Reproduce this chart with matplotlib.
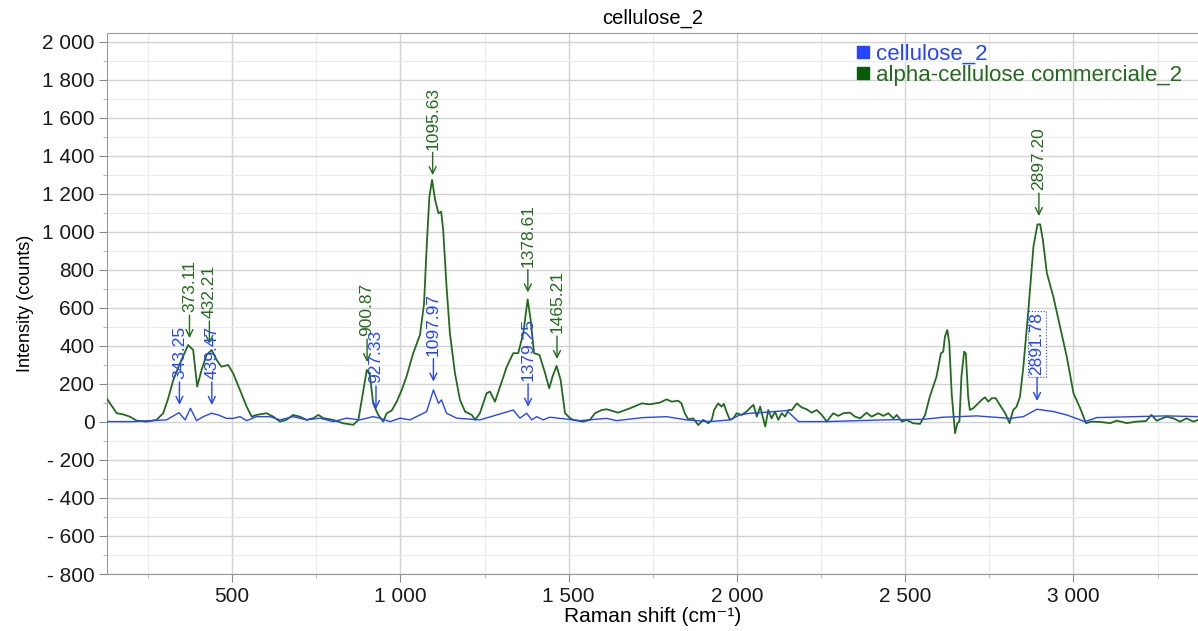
import numpy as np
import matplotlib
matplotlib.use('Agg')
import matplotlib.pyplot as plt
from matplotlib.ticker import MultipleLocator, FuncFormatter
from matplotlib.lines import Line2D

# spectra (Raman shift cm-1, counts)
green_x = [127, 157, 176, 196, 216, 246, 275, 295, 310, 325, 345, 369, 384, 396, 409, 424, 439, 454, 468, 488,
           503, 523, 543, 558, 572, 602, 622, 642, 661, 681, 701, 721, 741, 756, 771, 800, 830, 860, 875, 890,
           900, 909, 919, 934, 949, 959, 974, 989, 1004, 1018, 1038, 1058, 1070, 1078, 1086, 1094, 1103, 1113, 1121, 1127,
           1137, 1147, 1162, 1177, 1192, 1212, 1222, 1236, 1256, 1266, 1281, 1296, 1316, 1335, 1350, 1365, 1378, 1387, 1397, 1413,
           1430, 1442, 1452, 1464, 1476, 1489, 1504, 1514, 1543, 1563, 1578, 1598, 1613, 1647, 1682, 1717, 1741, 1771, 1791, 1806,
           1825, 1835, 1845, 1855, 1870, 1885, 1900, 1915, 1925, 1932, 1944, 1954, 1961, 1969, 1979, 1989, 1999, 2014, 2028, 2043,
           2049, 2059, 2069, 2079, 2084, 2093, 2103, 2113, 2123, 2133, 2143, 2153, 2163, 2178, 2192, 2207, 2222, 2237, 2252, 2267,
           2286, 2301, 2316, 2336, 2351, 2366, 2385, 2400, 2420, 2435, 2450, 2465, 2475, 2490, 2504, 2524, 2544, 2559, 2573, 2593,
           2606, 2613, 2618, 2625, 2631, 2638, 2648, 2655, 2661, 2667, 2675, 2680, 2687, 2692, 2702, 2717, 2727, 2737, 2747, 2757,
           2769, 2781, 2797, 2810, 2821, 2831, 2841, 2851, 2866, 2881, 2893, 2901, 2909, 2921, 2940, 2960, 2980, 3000, 3020, 3037,
           3054, 3080, 3109, 3129, 3158, 3188, 3215, 3232, 3247, 3277, 3297, 3317, 3336, 3356, 3370]
green_y = [124, 46, 40, 28, 7, 2, 11, 46, 125, 221, 309, 405, 379, 186, 274, 353, 379, 326, 291, 300,
           256, 169, 81, 28, 37, 46, 28, 2, 11, 37, 28, 11, 20, 37, 20, 11, -7, -15, 11, 169,
           274, 248, 98, 37, 2, 46, 60, 107, 169, 239, 362, 458, 620, 923, 1186, 1274, 1169, 1098, 1107, 1011,
           712, 467, 256, 116, 55, 37, 11, 46, 151, 160, 107, 186, 291, 362, 362, 467, 645, 537, 362, 353,
           256, 177, 239, 295, 221, 46, 20, 11, 2, 11, 46, 63, 67, 49, 72, 98, 93, 102, 119, 107,
           112, 98, 46, 14, 19, -16, 11, -7, 11, 63, 98, 81, 95, 54, 11, 19, 46, 37, 54, 81,
           90, 28, 81, 11, -24, 63, 19, 54, 11, 46, 28, 63, 63, 98, 77, 67, 49, 63, 37, 2,
           46, 32, 46, 49, 28, 19, 49, 28, 46, 32, 46, 19, 37, 2, 11, -7, -10, 37, 133, 239,
           361, 370, 449, 484, 414, 151, -59, -7, 2, 239, 370, 361, 133, 63, 72, 98, 116, 130, 107, 125,
           125, 90, 46, -6, 63, 81, 133, 290, 590, 923, 1040, 1040, 958, 783, 660, 502, 344, 151, 72, -6,
           2, 0, -6, 7, -6, 2, 5, 37, 7, 28, 19, 2, 19, 2, 11]

blue_x = [127, 206, 305, 342, 360, 376, 394, 414, 439, 459, 483, 503, 523, 543, 572, 612, 642, 681, 721, 761,
          800, 840, 879, 919, 939, 969, 999, 1028, 1058, 1078, 1098, 1113, 1122, 1137, 1167, 1236, 1286, 1335, 1355, 1375,
          1390, 1405, 1424, 1444, 1474, 1533, 1613, 1642, 1721, 1791, 1850, 1920, 1979, 2008, 2039, 2068, 2148, 2183, 2267, 2435,
          2554, 2613, 2712, 2811, 2851, 2891, 2940, 2980, 3034, 3069, 3178, 3277, 3370]
blue_y = [2, 2, 11, 49, 11, 72, 7, 28, 46, 37, 19, 19, 28, 7, 28, 28, 11, 28, 11, 20,
          2, 20, 11, 28, 20, 2, 20, 11, 37, 55, 169, 98, 116, 46, 20, 11, 37, 63, 20, 46,
          11, 28, 11, 25, 19, 7, 19, 7, 23, 28, 11, 2, 11, 37, 46, 49, 60, 2, 2, 11,
          14, 25, 32, 19, 28, 67, 55, 37, 2, 23, 28, 32, 28]

green_peaks = [373.11, 432.21, 900.87, 1095.63, 1378.61, 1465.21, 2897.20]
blue_peaks = [343.25, 439.47, 927.33, 1097.97, 1379.25, 2891.78]

blue = '#2545ff'
green = '#226b1c'

plt.rcParams['font.family'] = ['Liberation Sans', 'DejaVu Sans']

fig = plt.figure(figsize=(11.98, 6.31), dpi=100)
ax = fig.add_axes([107/1198, 57/631, 1 - 107/1198, (574 - 33)/631])

ax.plot(green_x, green_y, color=green, lw=1.3, zorder=3)
ax.plot(blue_x, blue_y, color=blue, lw=1.0, zorder=4)

ax.set_xlim(128, 3370)
ax.set_ylim(-800, 2047)

ax.xaxis.set_major_locator(MultipleLocator(500))
ax.xaxis.set_minor_locator(MultipleLocator(250))
ax.yaxis.set_major_locator(MultipleLocator(200))
ax.yaxis.set_minor_locator(MultipleLocator(100))


def fmt(v, pos):
    s = f"{abs(int(round(v))):,}".replace(',', ' ')
    return ('- ' + s) if v < 0 else s


ax.xaxis.set_major_formatter(FuncFormatter(fmt))
ax.yaxis.set_major_formatter(FuncFormatter(fmt))
ax.tick_params(which='major', direction='out', length=6, color='#888888', labelsize=15,
               labelcolor='#1a1a1a', pad=3)
ax.tick_params(which='minor', direction='out', length=3, color='#aaaaaa')
ax.grid(which='major', color='#d2d2d2', lw=1.0)
ax.grid(which='minor', color='#ececec', lw=0.8)
ax.set_axisbelow(True)
for side in ['left', 'bottom', 'top']:
    ax.spines[side].set_color('#999999')
ax.spines['right'].set_visible(False)

ax.set_title('cellulose_2', fontsize=14.5, pad=7)
ax.set_xlabel('Raman shift (cm\u207b\u00b9)', fontsize=15, labelpad=1)
ax.set_ylabel('Intensity (counts)', fontsize=13, labelpad=6)

lab_font = ['Liberation Sans Narrow', 'Liberation Sans', 'DejaVu Sans']


def label_peaks(peaks, xs, ys, col, boxed=None):
    for p in peaks:
        yv = np.interp(p, xs, ys)
        bbox = None
        if p == boxed:
            bbox = dict(boxstyle='square,pad=0.1', fc='none', ec=col, lw=0.8, ls=':')
        ax.annotate(f'{p:.2f}', xy=(p, yv), xytext=(0, 34), textcoords='offset pixels',
                    rotation=90, ha='center', va='bottom', color=col, fontsize=12.5,
                    family=lab_font, bbox=bbox, zorder=6,
                    arrowprops=dict(arrowstyle='->', color=col, lw=1.0, shrinkA=0, shrinkB=6))


label_peaks(green_peaks, green_x, green_y, green)
label_peaks(blue_peaks, blue_x, blue_y, blue, boxed=2891.78)

handles = [Line2D([], [], ls='none', marker='s', ms=8, color=blue),
           Line2D([], [], ls='none', marker='s', ms=8, color='#0a5c0a')]
leg = ax.legend(handles, ['cellulose_2', 'alpha-cellulose commerciale_2'], loc='upper right',
                bbox_to_anchor=(0.998, 1.005), frameon=False, fontsize=16, handletextpad=0.15,
                labelspacing=0.02, borderaxespad=0.2, handlelength=0.9)
leg.get_texts()[0].set_color(blue)
leg.get_texts()[1].set_color(green)

fig.savefig('out.png', dpi=100)
